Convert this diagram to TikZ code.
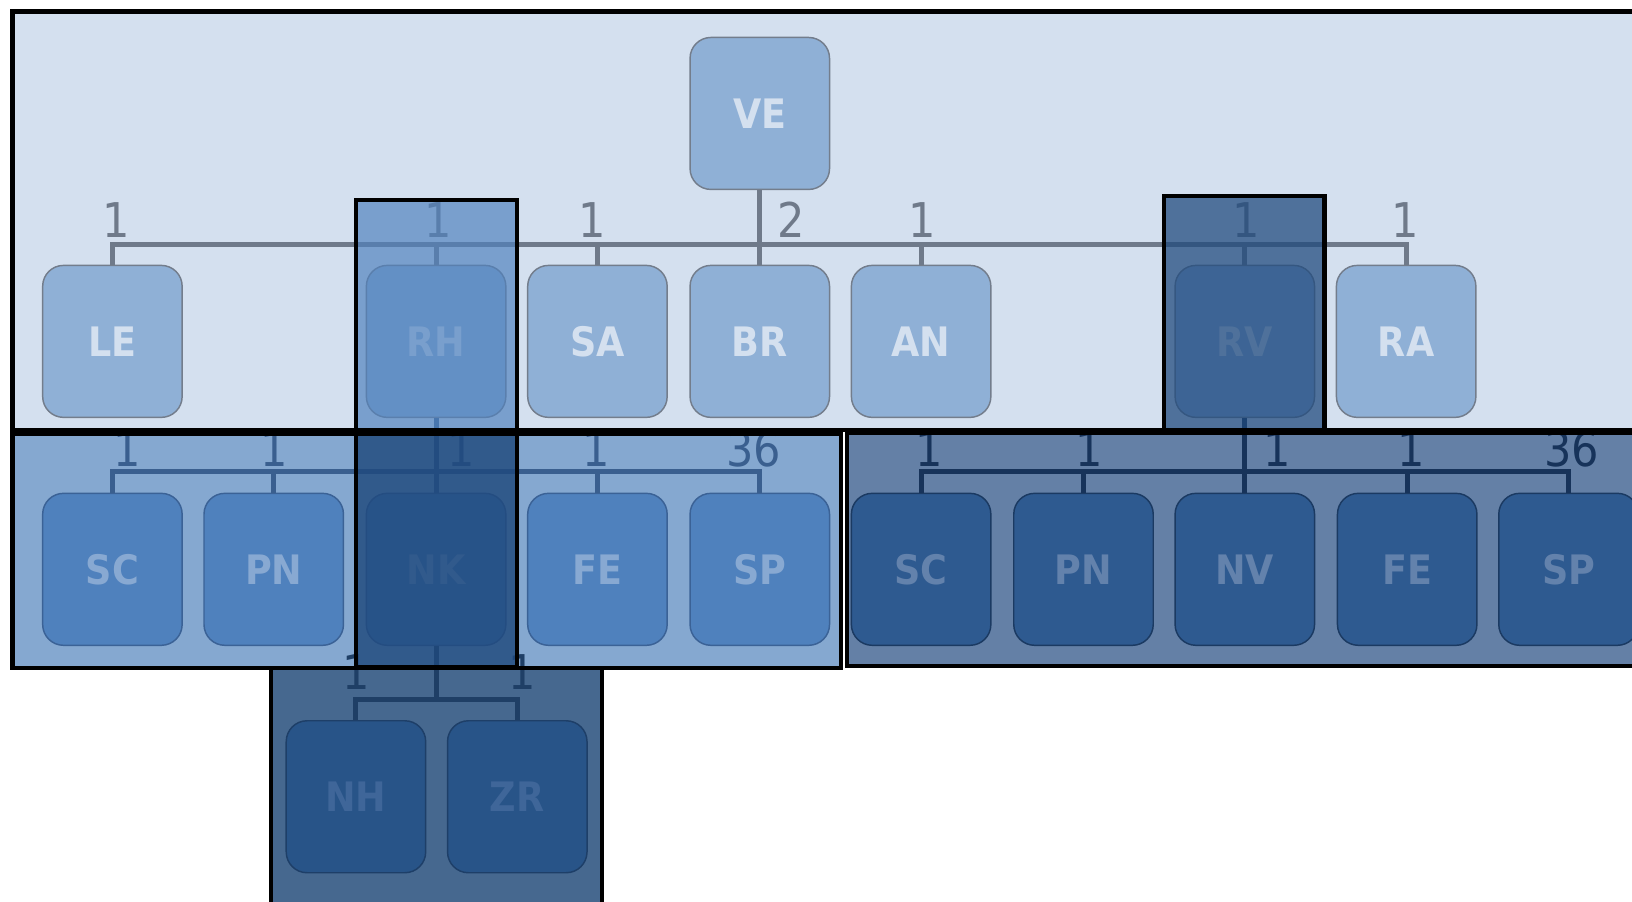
\documentclass[tikz,border=0pt]{standalone}
\usepackage{fontspec}
\setmainfont{DejaVu Sans}
\newfontfamily\unitfont{DejaVu Sans Condensed}
\usepackage{xcolor}
\definecolor{topbg}{HTML}{D4E0EF}
\definecolor{topbox}{HTML}{8FB0D6}
\definecolor{topedge}{HTML}{737D8C}
\definecolor{topline}{HTML}{6F7A8A}
\definecolor{lbg}{HTML}{85A8D0}
\definecolor{lbox}{HTML}{4F81BD}
\definecolor{ledge}{HTML}{3B6296}
\definecolor{ltext}{HTML}{88A9D2}
\definecolor{lline}{HTML}{3A5F8F}
\definecolor{rbg}{HTML}{6480A6}
\definecolor{rbox}{HTML}{2E5A90}
\definecolor{redge}{HTML}{1B3A62}
\definecolor{rtext}{HTML}{6382AC}
\definecolor{rline}{HTML}{17335A}
\definecolor{bbg}{HTML}{46688F}
\definecolor{bbox}{HTML}{285488}
\definecolor{bedge}{HTML}{1E3F68}
\definecolor{btext}{HTML}{3F6699}
\definecolor{bline}{HTML}{1F3F66}
\definecolor{lightmark}{HTML}{4F81BD}
\definecolor{darkmark}{HTML}{1F497D}

\begin{document}
\begin{tikzpicture}[x=0.5pt, y=-0.5pt,
  unit/.style={rounded corners=10pt, minimum width=67pt, minimum height=73pt, inner sep=0pt,
    line width=0.7pt, font=\unitfont\bfseries\fontsize{19.5}{22}\selectfont},
  topunit/.style={unit, draw=topedge, fill=topbox, text=topbg},
  lunit/.style={unit, draw=ledge, fill=lbox, text=ltext},
  runit/.style={unit, draw=redge, fill=rbox, text=rtext},
  bunit/.style={unit, draw=bedge, fill=bbox, text=btext},
  link/.style={line width=2.4pt},
  mult/.style={inner sep=0pt, anchor=base, font=\unitfont\fontsize{23}{26}\selectfont},
  frame/.style={draw=black, line width=2pt}]
  \useasboundingbox (0,0) rectangle (1568,866);
  \clip (0,0) rectangle (1568,866);
  % frame backgrounds
  \fill[topbg] (12,11) rectangle (1590,413);
  \fill[lbg] (12,416.5) rectangle (808,642);
  \fill[rbg] (814,415.5) rectangle (1590,639.5);
  \fill[bbg] (260,642) rectangle (578,900);

  % level 0 and 1
  \node[topunit] (ve) at (730,109) {VE};
  \node[topunit] (le) at (108,328) {LE};
  \node[topunit] (rh) at (419,328) {RH};
  \node[topunit] (sa) at (574,328) {SA};
  \node[topunit] (br) at (730,328) {BR};
  \node[topunit] (an) at (885,328) {AN};
  \node[topunit] (rv) at (1196,328) {RV};
  \node[topunit] (ra) at (1351,328) {RA};
  % level 2, left group under RH
  \node[lunit] (lsc) at (108,547) {SC};
  \node[lunit] (lpn) at (263,547) {PN};
  \node[lunit] (lnk) at (419,547) {NK};
  \node[lunit] (lfe) at (574,547) {FE};
  \node[lunit] (lsp) at (730,547) {SP};
  % level 2, right group under RV
  \node[runit] (rsc) at (885,547) {SC};
  \node[runit] (rpn) at (1041,547) {PN};
  \node[runit] (rnv) at (1196,547) {NV};
  \node[runit] (rfe) at (1352,547) {FE};
  \node[runit] (rsp) at (1507,547) {SP};
  % level 3 under NK
  \node[bunit] (nh) at (342,765.5) {NH};
  \node[bunit] (zr) at (497,765.5) {ZR};

  % connectors
  \draw[link, topline] (ve.south) -- ++(0,52) -| (le.north);
  \draw[link, topline] (ve.south) -- ++(0,52) -| (rh.north);
  \draw[link, topline] (ve.south) -- ++(0,52) -| (sa.north);
  \draw[link, topline] (ve.south) -- ++(0,52) -| (br.north);
  \draw[link, topline] (ve.south) -- ++(0,52) -| (an.north);
  \draw[link, topline] (ve.south) -- ++(0,52) -| (rv.north);
  \draw[link, topline] (ve.south) -- ++(0,52) -| (ra.north);
  \draw[link, lline] (rh.south) -- ++(0,51) -| (lsc.north);
  \draw[link, lline] (rh.south) -- ++(0,51) -| (lpn.north);
  \draw[link, lline] (rh.south) -- ++(0,51) -| (lnk.north);
  \draw[link, lline] (rh.south) -- ++(0,51) -| (lfe.north);
  \draw[link, lline] (rh.south) -- ++(0,51) -| (lsp.north);
  \draw[link, rline] (rv.south) -- ++(0,51) -| (rsc.north);
  \draw[link, rline] (rv.south) -- ++(0,51) -| (rpn.north);
  \draw[link, rline] (rv.south) -- ++(0,51) -| (rnv.north);
  \draw[link, rline] (rv.south) -- ++(0,51) -| (rfe.north);
  \draw[link, rline] (rv.south) -- ++(0,51) -| (rsp.north);
  \draw[link, bline] (lnk.south) -- ++(0,51) -| (nh.north);
  \draw[link, bline] (lnk.south) -- ++(0,51) -| (zr.north);

  % multiplicities
  \node[mult, text=topline] (m-le) at (112,228) {1};
  \node[mult, text=topline] (m-rh) at (421,228) {1};
  \node[mult, text=topline] (m-sa) at (569,228) {1};
  \node[mult, text=topline] (m-br) at (760,228) {2};
  \node[mult, text=topline] (m-an) at (886,228) {1};
  \node[mult, text=topline] (m-rv) at (1197,228) {1};
  \node[mult, text=topline] (m-ra) at (1350,228) {1};
  \node[mult, text=lline] (m-lsc) at (122,448) {1};
  \node[mult, text=lline] (m-lpn) at (263,448) {1};
  \node[mult, text=lline] (m-lnk) at (443,448) {1};
  \node[mult, text=lline] (m-lfe) at (573,448) {1};
  \node[mult, text=lline] (m-lsp) at (724,448) {36};
  \node[mult, text=rline] (m-rsc) at (893,448) {1};
  \node[mult, text=rline] (m-rpn) at (1046,448) {1};
  \node[mult, text=rline] (m-rnv) at (1227,448) {1};
  \node[mult, text=rline] (m-rfe) at (1356,448) {1};
  \node[mult, text=rline] (m-rsp) at (1510,448) {36};
  \node[mult, text=bline] (m-nh) at (342,662) {1};
  \node[mult, text=bline] (m-zr) at (502,662) {1};

  % highlighted columns
  \fill[lightmark, fill opacity=0.68] (342,192.5) rectangle (496.5,413);
  \fill[darkmark, fill opacity=0.73] (1118,188.5) rectangle (1272.5,413);
  \fill[darkmark, fill opacity=0.82] (342,416.5) rectangle (496.5,641);

  % frame borders
  \draw[frame] (12,11) rectangle (1590,413);
  \draw[frame] (12,416.5) rectangle (808,642);
  \draw[frame] (814,415.5) rectangle (1590,639.5);
  \draw[frame] (260,642) rectangle (578,900);
  \draw[frame] (342,192.5) rectangle (496.5,413);
  \draw[frame] (1118,188.5) rectangle (1272.5,413);
  \draw[frame] (342,416.5) rectangle (496.5,641);
\end{tikzpicture}
\end{document}
